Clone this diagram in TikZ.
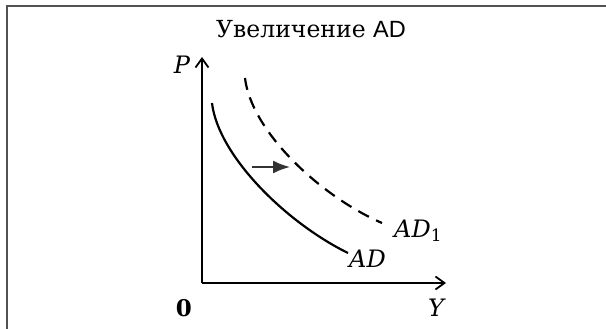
\documentclass[tikz,border=0pt]{standalone}
\usepackage{fontspec}
\setmainfont{DejaVu Serif}
\newfontfamily\arialfont{Liberation Sans}
\usetikzlibrary{arrows.meta}
\tikzset{
  frame/.style={draw=black!68, line width=2pt},
  axis/.style={line width=1.8pt, -{Straight Barb[length=9pt,width=13pt,line width=1.8pt]}},
  curve/.style={line width=2.2pt},
  shifted/.style={line width=2.2pt, dash pattern=on 12pt off 8pt},
  shiftarrow/.style={line width=1.8pt, draw=black!80, -{Latex[length=17pt,width=13pt]}},
  lab/.style={inner sep=0pt, font=\fontsize{24}{28}\selectfont\itshape},
  num/.style={inner sep=0pt, font=\fontsize{23}{26}\selectfont\bfseries},
  ttl/.style={inner sep=0pt, font=\fontsize{23.5}{27}\selectfont}
}
\begin{document}
\begin{tikzpicture}[x=1pt,y=-1pt]
\useasboundingbox (0,0) rectangle (606,329);
\draw[frame] (7,331) -- (7,6) -- (608,6);
\node[ttl] (title) at (311,29) {Увеличение \arialfont AD};
\coordinate (O) at (202,283);
\coordinate (ytop) at (202,57);
\coordinate (xend) at (446,283);
\draw[axis] (O) -- (ytop);
\draw[axis] (O) -- (xend);
\node[lab] (P) at (182,65) {P};
\node[num] (zero) at (184,308) {0};
\node[lab] (Y) at (436,308) {Y};
\coordinate (ads) at (212,103);
\coordinate (ade) at (348,253);
\draw[curve] (ads) .. controls (218,155) and (285,222) .. (ade);
\coordinate (ad1s) at (245,78);
\coordinate (ad1e) at (382,223);
\draw[shifted] (ad1s) .. controls (251,130) and (318,195) .. (ad1e);
\coordinate (sa) at (252,167);
\coordinate (sb) at (290,167);
\draw[shiftarrow] (sa) -- (sb);
\node[lab, anchor=west] (ADlab) at (349,259) {AD};
\node[lab, anchor=west] (AD1lab) at (394,231) {AD\raisebox{-4pt}{\fontsize{17}{17}\selectfont\upshape 1}};
\end{tikzpicture}
\end{document}
